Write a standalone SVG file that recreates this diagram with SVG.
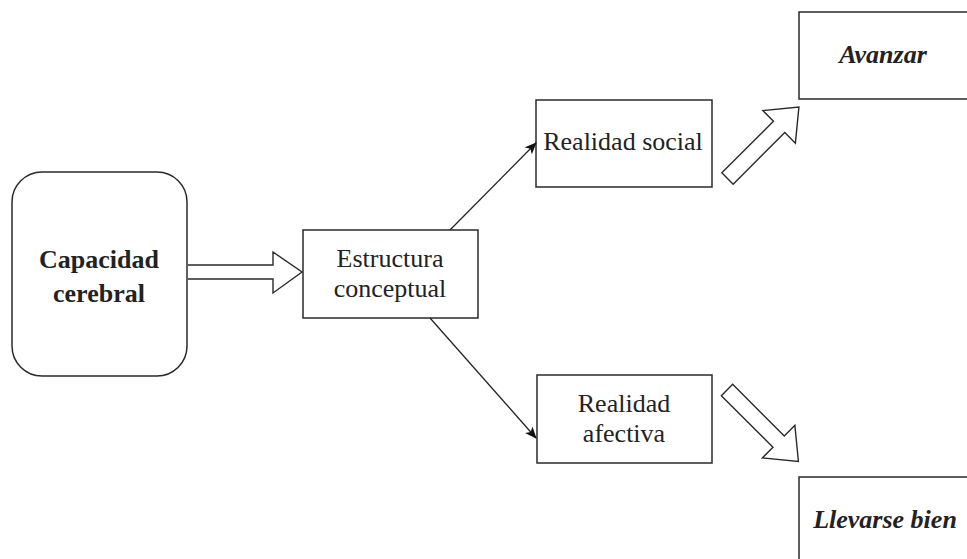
<svg xmlns="http://www.w3.org/2000/svg" width="967" height="559" viewBox="0 0 967 559">
<style>
.box{fill:#fff;stroke:#2a2a2a;stroke-width:1.5}
.t{font-family:"Liberation Serif","Times New Roman",serif;font-size:26px;fill:#222;text-anchor:middle}
.b{font-weight:bold}
.bi{font-weight:bold;font-style:italic}
.ln{fill:none;stroke:#222;stroke-width:1.3}
.blk{fill:#fff;stroke:#2a2a2a;stroke-width:1.4;stroke-linejoin:miter}
</style>
<defs>
<marker id="ah" viewBox="0 0 12 10" refX="11" refY="5" markerWidth="12" markerHeight="10" markerUnits="userSpaceOnUse" orient="auto">
<path d="M0,0 L12,5 L0,10 L3,5 Z" fill="#111"/>
</marker>
</defs>
<rect width="967" height="559" fill="#fff"/>
<g id="capacidad">
<rect class="box" x="12" y="172" width="175" height="204" rx="30" ry="30"/>
<text class="t b" x="99" y="268" font-size="29">Capacidad</text>
<text class="t b" x="99" y="302" font-size="29">cerebral</text>
</g>
<g id="estructura">
<rect class="box" x="303" y="230" width="175" height="88"/>
<text class="t" x="390" y="267">Estructura</text>
<text class="t" x="390" y="297">conceptual</text>
</g>
<g id="social">
<rect class="box" x="536" y="100" width="176" height="87"/>
<text class="t" x="623" y="150">Realidad social</text>
</g>
<g id="afectiva">
<rect class="box" x="537" y="375" width="175" height="88"/>
<text class="t" x="624" y="412">Realidad</text>
<text class="t" x="624" y="442">afectiva</text>
</g>
<g id="avanzar">
<rect class="box" x="799" y="12" width="180" height="87"/>
<text class="t bi" x="883" y="63">Avanzar</text>
</g>
<g id="llevarse">
<rect class="box" x="799" y="477" width="180" height="100"/>
<text class="t bi" x="885" y="528">Llevarse bien</text>
</g>
<g id="connectors">
<path class="blk" d="M188,265 H273 V252 L302,272 L273,293 V279 H188"/>
<line class="ln" x1="450" y1="230" x2="536" y2="143" marker-end="url(#ah)"/>
<line class="ln" x1="430" y1="318" x2="536" y2="438" marker-end="url(#ah)"/>
<polygon class="blk" transform="translate(727.5,178.5) rotate(-45)" points="0,-8 73,-8 73,-23 101,0 73,23 73,8 0,8"/>
<polygon class="blk" transform="translate(727,390) rotate(45)" points="0,-8 73,-8 73,-23 101,0 73,23 73,8 0,8"/>
</g>
</svg>
